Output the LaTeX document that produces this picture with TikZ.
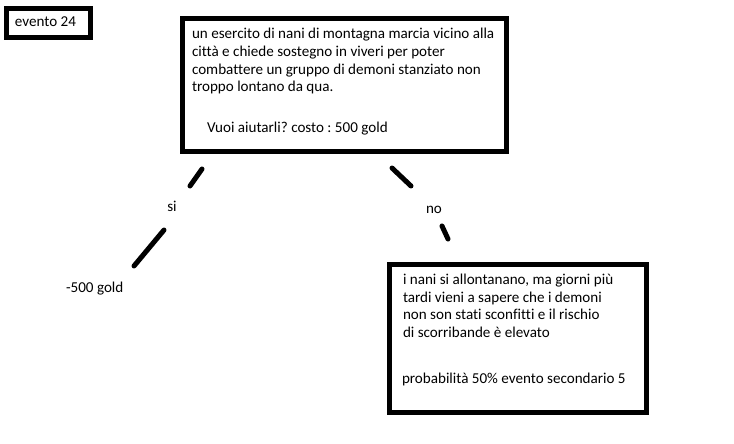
\documentclass[tikz,border=0pt]{standalone}
\usepackage{fontspec}
\setmainfont[Ligatures=NoCommon]{Carlito}
\frenchspacing
\begin{document}
\begin{tikzpicture}[x=1pt,y=-1pt,
  frame/.style={draw=black,line width=5pt,inner sep=0pt,outer sep=0pt},
  txt/.style={inner sep=0pt,outer sep=0pt,anchor=base west,font=\fontsize{15.1}{17.7}\selectfont},
  lbl/.style={inner sep=0pt,outer sep=0pt,anchor=base,font=\fontsize{15.1}{17.7}\selectfont},
  seg/.style={draw=black,line width=5pt,line cap=round}]
\useasboundingbox[fill=white] (0,0) rectangle (734,444);
% boxes
\node[frame,minimum width=84pt,minimum height=29pt] (ev) at (48.5,23) {};
\node[frame,minimum width=324pt,minimum height=133pt] (main) at (344.5,85) {};
\node[frame,minimum width=257pt,minimum height=148pt] (res) at (518,338.5) {};
% texts
\node[txt] (evt) at (15,27) {evento 24};
\node[txt] (m1) at (192,39) {un esercito di nani di montagna marcia vicino alla};
\node[txt] (m2) at (192,57) {città e chiede sostegno in viveri per poter};
\node[txt] (m3) at (192,75) {combattere un gruppo di demoni stanziato non};
\node[txt] (m4) at (192,92) {troppo lontano da qua.};
\node[txt] (m5) at (207,132) {Vuoi aiutarli? costo : 500 gold};
\node[txt] (r1) at (403,284) {i nani si allontanano, ma giorni più};
\node[txt] (r2) at (403,302) {tardi vieni a sapere che i demoni};
\node[txt] (r3) at (403,319.5) {non son stati sconfitti e il rischio};
\node[txt] (r4) at (403,337) {di scorribande è elevato};
\node[txt] (r5) at (402,383) {probabilità 50\% evento secondario 5};
\node[lbl] (si) at (172,211) {si};
\node[lbl] (no) at (434,213) {no};
\node[txt] (gold) at (66,292) {-500 gold};
% connector segments
\coordinate (s1a) at (202,169);
\coordinate (s1b) at (190,186);
\coordinate (s2a) at (164,230);
\coordinate (s2b) at (134,266);
\coordinate (n1a) at (392,168);
\coordinate (n1b) at (411,186);
\coordinate (n2a) at (442,226);
\coordinate (n2b) at (448,239);
\draw[seg] (s1a) -- (s1b);
\draw[seg] (s2a) -- (s2b);
\draw[seg] (n1a) -- (n1b);
\draw[seg] (n2a) -- (n2b);
\end{tikzpicture}
\end{document}
